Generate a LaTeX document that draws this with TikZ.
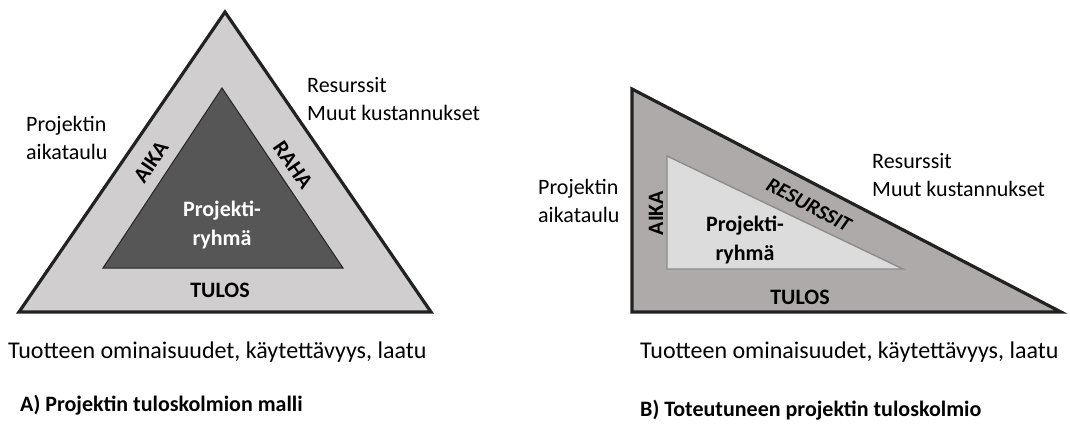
\documentclass[tikz,border=0pt]{standalone}
\usepackage{fontspec}
\setmainfont{Carlito}
\definecolor{outerA}{HTML}{D0CECE}
\definecolor{innerA}{HTML}{565656}
\definecolor{outerB}{HTML}{AEAAAA}
\definecolor{innerB}{HTML}{DCDCDC}
\definecolor{edge}{HTML}{222222}
\begin{document}
\begin{tikzpicture}[x=1pt,y=-1pt,
  lab/.style={font=\fontsize{22}{28}\selectfont, inner sep=0pt, align=left, anchor=west},
  big/.style={font=\fontsize{24}{29}\selectfont, inner sep=0pt, anchor=west},
  bl/.style={font=\bfseries\fontsize{22}{26}\selectfont, inner sep=0pt},
  inl/.style={font=\bfseries\fontsize{22}{29}\selectfont, inner sep=0pt, align=center},
  capt/.style={font=\bfseries\fontsize{22}{26}\selectfont, inner sep=0pt, anchor=west},
  outerline/.style={draw=edge, line width=3.2pt, line join=miter}]
\useasboundingbox (0,0) rectangle (1070,423);
% ---------- A ----------
\draw[outerline, fill=outerA] (19,312) -- (225,12) -- (431,312) -- cycle;
\draw[draw=black!85, line width=1pt, fill=innerA] (103,268) -- (222,88) -- (343,268) -- cycle;
\node[bl, rotate=55.5] (aikaA) at (151,162) {AIKA};
\node[bl, rotate=-55.5] (rahaA) at (293,165) {RAHA};
\node[bl] (tulosA) at (220,290) {TULOS};
\node[inl, text=white] (ryhmaA) at (222,225) {Projekti-\\ryhmä};
\node[lab] (aikatauluA) at (26,138) {Projektin\\aikataulu};
\node[lab] (resA) at (307,99) {Resurssit\\Muut kustannukset};
\node[big] (tuoteA) at (8,352) {Tuotteen ominaisuudet, käytettävyys, laatu};
\node[capt] (captA) at (20,405) {A) Projektin tuloskolmion malli};
% ---------- B ----------
\draw[outerline, fill=outerB] (632,312) -- (632,89) -- (1061,312) -- cycle;
\draw[draw=black!45, line width=1.4pt, fill=innerB] (667,269) -- (667,156) -- (903,269) -- cycle;
\node[bl, rotate=90] (aikaB) at (656,213) {AIKA};
\node[bl, rotate=-28, font=\bfseries\itshape\fontsize{21}{26}\selectfont] (resB) at (809,205) {RESURSSIT};
\node[bl] (tulosB) at (800,297) {TULOS};
\node[inl] (ryhmaB) at (745,240) {Projekti-\\ryhmä};
\node[lab] (aikatauluB) at (538,201) {Projektin\\aikataulu};
\node[lab] (resB2) at (872,175) {Resurssit\\Muut kustannukset};
\node[big] (tuoteB) at (640,352) {Tuotteen ominaisuudet, käytettävyys, laatu};
\node[capt] (captB) at (640,410) {B) Toteutuneen projektin tuloskolmio};
\end{tikzpicture}
\end{document}
